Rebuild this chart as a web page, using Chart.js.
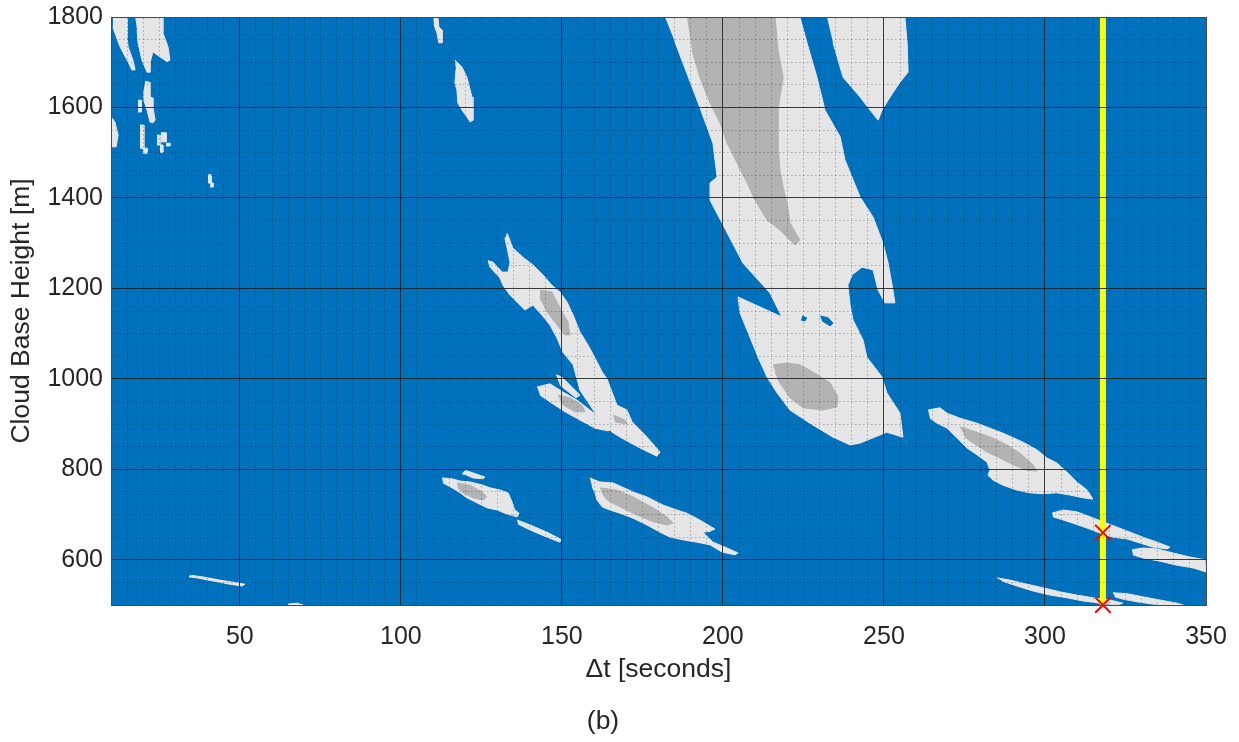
<!DOCTYPE html>
<html>
<head>
<meta charset="utf-8">
<script src="https://cdn.jsdelivr.net/npm/chart.js@4.4.1/dist/chart.umd.min.js"></script>
<style>
  html, body { margin: 0; padding: 0; background: #ffffff; }
  #wrap { width: 1239px; height: 742px; }
</style>
</head>
<body>
<div id="wrap"><canvas id="c" width="1239" height="742"></canvas></div>
<script>
// Axis ranges and tick labels
const xRange = [10, 350];
const yRange = [500, 1800];
const xTickValues = [50, 100, 150, 200, 250, 300, 350];
const xTickLabels = ['50', '100', '150', '200', '250', '300', '350'];
const yTickValues = [600, 800, 1000, 1200, 1400, 1600, 1800];
const yTickLabels = ['600', '800', '1000', '1200', '1400', '1600', '1800'];
const xMinorStep = 5;
const yMinorStep = 50;

// Selected time and the detected cloud bases on it
const cursorTime = 318;
const detectX = [318, 318];
const detectY = [660, 500];

// Cloud regions as closed outlines: [Δt (s), height (m)]
const mainCloud = [[182.0,1800],[223.9,1800],[226.1,1743],[229.2,1667],[231.7,1594],[236.4,1535],[237.9,1484],[242.6,1402],[246.6,1358],[249.7,1300],[251.3,1256],[252.8,1196],[253.4,1168],[250.3,1168],[248.2,1196],[246.6,1241],[243.2,1247],[240.1,1230],[238.8,1207],[239.5,1163],[240.4,1130],[243.5,1086],[244.7,1048],[249.4,1004],[250.9,969],[255.0,924],[255.9,871],[250.9,882],[242.6,858],[239.5,854],[234.2,871],[227.0,902],[220.8,931],[216.8,969],[213.7,1004],[210.9,1048],[208.4,1092],[205.3,1146],[204.7,1181],[218.3,1137],[214.6,1190],[206.2,1256],[199.7,1345],[196.0,1395],[196.0,1433],[198.2,1446],[196.9,1521],[192.8,1601],[185.1,1745]];
const mainCloudCore = [[188.8,1800],[216.2,1800],[217.1,1727],[218.7,1667],[217.1,1594],[217.1,1521],[217.7,1462],[218.7,1424],[219.9,1389],[220.8,1345],[223.9,1307],[222.4,1296],[217.7,1329],[213.7,1351],[210.0,1395],[207.5,1433],[204.4,1477],[201.3,1521],[199.1,1566],[196.0,1610],[192.8,1667],[190.4,1727]];
const lowerLobeCore = [[215.6,1031],[219.9,1035],[223.9,1031],[228.0,1015],[233.3,991],[235.7,960],[235.4,938],[231.1,931],[224.9,936],[220.8,958],[217.7,991],[216.2,1015]];
const lobeGapA = [[224.6,1139],[226.0,1135],[225.5,1128],[224.3,1130]];
const lobeGapB = [[230.2,1139],[232.7,1135],[234.2,1123],[233.3,1117],[230.8,1128]];
const upperRightCloud = [[232.3,1800],[256.5,1800],[257.2,1743],[257.5,1678],[255.0,1656],[251.9,1623],[249.4,1594],[248.2,1572],[245.7,1594],[242.6,1623],[237.3,1667],[234.2,1743]];

const edgeStreakA = [[10.6,1800],[15.0,1800],[15.0,1756],[15.3,1734],[16.8,1705],[17.5,1683],[16.5,1683],[15.0,1705],[12.8,1734],[11.2,1765],[10.6,1778]];
const edgeStreakB = [[17.5,1800],[26.1,1800],[26.1,1765],[27.7,1734],[28.3,1705],[27.4,1701],[25.2,1712],[23.0,1723],[22.1,1698],[22.1,1678],[21.2,1678],[19.6,1705],[18.4,1743],[18.1,1771]];
const edgeStreakC = [[20.6,1658],[21.8,1656],[22.1,1623],[23.0,1621],[23.0,1601],[23.7,1572],[23.0,1566],[22.1,1568],[21.2,1594],[20.2,1616],[20.2,1639]];
const edgeStreakD = [[10.0,1579],[11.2,1568],[12.2,1539],[11.6,1513],[10.0,1513]];
const speckA = [[18.4,1616],[19.4,1616],[19.4,1590],[18.4,1590]];
const speckB = [[19.0,1561],[20.2,1561],[20.2,1510],[19.0,1510]];
const speckC = [[19.9,1510],[21.2,1510],[21.2,1499],[19.9,1499]];
const speckD = [[24.3,1539],[25.2,1539],[25.2,1517],[24.3,1517]];
const speckE = [[25.5,1544],[27.1,1544],[27.1,1524],[25.5,1524]];
const speckF = [[25.2,1517],[26.1,1517],[26.1,1501],[25.2,1501]];
const speckG = [[27.1,1521],[28.3,1521],[28.3,1515],[27.1,1515]];
const speckH = [[40.1,1451],[41.1,1451],[41.1,1433],[40.1,1433]];
const speckI = [[40.8,1433],[41.7,1433],[41.7,1424],[40.8,1424]];

const crestTop = [[110.0,1800],[111.5,1800],[111.8,1778],[112.8,1771],[112.8,1743],[111.8,1743],[111.2,1765],[110.3,1782]];
const crestMid = [[116.8,1705],[119.0,1689],[120.5,1667],[121.5,1639],[122.1,1623],[122.4,1594],[122.4,1572],[121.5,1568],[120.5,1579],[119.0,1594],[117.7,1610],[117.4,1639],[116.8,1654],[117.1,1683]];

const slantC = [[133.0,1322],[134.8,1289],[137.9,1269],[141.0,1252],[144.1,1230],[146.9,1207],[149.4,1192],[151.6,1170],[153.5,1141],[155.6,1104],[158.1,1075],[160.3,1046],[162.5,1015],[164.0,1000],[167.1,942],[170.2,931],[171.8,905],[175.8,876],[180.5,838],[179.5,829],[174.3,847],[169.6,865],[165.6,882],[161.8,909],[158.7,942],[155.6,975],[153.5,1031],[150.3,1059],[148.5,1090],[146.3,1119],[143.8,1141],[141.0,1163],[138.5,1152],[137.0,1163],[133.9,1185],[131.7,1207],[130.8,1223],[127.7,1247],[127.1,1261],[128.6,1258],[131.5,1236],[133.3,1236],[133.9,1258],[133.0,1289],[132.3,1311]];
const slantCCore = [[143.2,1196],[146.9,1192],[149.4,1157],[151.9,1126],[152.5,1097],[151.0,1097],[148.5,1119],[145.4,1148],[143.2,1179]];
const slantD = [[142.3,982],[146.3,989],[150.3,971],[154.7,953],[158.7,931],[162.8,909],[166.5,891],[164.3,885],[160.3,891],[155.6,909],[151.0,927],[146.3,949],[143.2,964]];
const slantDCore = [[148.8,964],[152.5,958],[156.2,942],[157.2,927],[154.1,927],[150.0,944]];
const slantThin = [[148.2,1009],[150.0,1004],[155.6,964],[154.4,958],[149.4,986]];
const slantECore = [[165.9,920],[169.6,909],[170.2,900],[166.5,905]];

const lowBandF = [[112.8,781],[115.9,779],[118.4,774],[121.5,772],[125.5,765],[127.7,759],[130.8,754],[133.3,748],[134.5,728],[135.4,710],[136.7,703],[136.1,695],[133.0,701],[129.9,710],[126.7,715],[123.6,726],[120.5,737],[118.4,748],[115.9,759],[113.1,770]];
const lowBandFTop = [[119.9,798],[122.4,792],[126.1,783],[125.5,779],[122.4,781],[120.5,787],[119.0,790]];
const lowBandFTail = [[136.1,688],[140.1,677],[145.4,661],[150.0,644],[149.4,639],[145.4,650],[140.1,666],[136.4,679]];
const lowBandFCore = [[117.4,770],[121.5,765],[125.2,750],[126.7,739],[125.5,732],[122.4,737],[119.3,748],[117.7,759]];
const lowBandG = [[158.7,781],[161.8,772],[165.9,770],[172.1,750],[176.4,739],[181.4,721],[185.7,710],[188.8,703],[192.8,688],[197.5,668],[196.0,663],[193.8,661],[196.9,639],[201.3,626],[204.7,615],[203.7,611],[199.7,617],[196.0,633],[191.9,639],[187.6,644],[183.6,650],[180.5,661],[176.4,677],[172.1,692],[168.0,703],[164.9,710],[162.5,717],[160.9,732],[160.3,748],[159.4,761]];
const lowBandGCore = [[161.8,759],[167.1,754],[172.1,739],[178.3,715],[182.6,695],[184.5,681],[182.6,677],[178.3,684],[173.3,699],[168.0,717],[164.0,732],[162.5,748]];

const rightBandH = [[263.7,931],[267.4,936],[269.6,924],[273.6,913],[278.9,902],[282.9,891],[286.9,880],[293.2,860],[297.5,843],[300.6,825],[303.7,814],[306.8,794],[309.9,772],[313.1,754],[314.9,734],[311.8,737],[307.8,743],[303.7,748],[299.4,746],[295.3,748],[291.3,754],[286.9,765],[283.9,776],[282.3,787],[282.9,798],[282.0,816],[278.9,832],[275.8,847],[272.7,869],[269.6,891],[266.5,902],[264.3,913]];
const rightBandHCore = [[273.6,894],[278.9,882],[283.9,869],[288.2,854],[292.2,836],[296.3,810],[297.5,796],[294.4,798],[290.1,810],[286.0,825],[282.0,838],[277.7,858],[275.2,871]];
const rightBandI = [[302.2,703],[305.6,710],[309.9,706],[314.0,695],[318.0,684],[322.4,672],[326.4,661],[330.4,650],[334.8,639],[338.8,628],[337.9,624],[333.5,628],[329.5,637],[325.5,646],[321.1,650],[317.1,659],[313.1,670],[308.7,681],[304.7,690],[302.5,695]];
const rightBandJ = [[327.0,622],[330.4,626],[334.8,624],[339.8,615],[345.0,606],[349.7,600],[350.0,573],[346.0,582],[341.0,588],[335.7,597],[330.4,604],[327.3,611]];
const rightBandK = [[285.1,560],[289.1,555],[294.4,546],[299.4,538],[304.7,529],[309.9,522],[314.9,516],[320.2,511],[324.2,504],[322.4,500],[317.1,504],[311.8,509],[306.8,516],[301.6,522],[296.3,531],[291.3,542],[286.7,553]];
const rightBandL = [[321.1,527],[325.5,525],[330.4,518],[335.7,511],[341.0,504],[342.9,500],[338.8,500],[333.5,502],[328.6,507],[324.2,513],[321.7,518]];
const lowStreakM = [[34.5,566],[38.6,562],[43.8,555],[49.1,549],[51.6,546],[50.7,542],[46.9,546],[41.7,553],[36.7,560],[34.2,562]];
const lowStreakN = [[65.0,502],[67.8,504],[69.6,500],[65.0,500]];

// Layers: thin cloud, thick cloud core, clear gaps
const thinCloud = [mainCloud, upperRightCloud, edgeStreakA, edgeStreakB, edgeStreakC, edgeStreakD,
  speckA, speckB, speckC, speckD, speckE, speckF, speckG, speckH, speckI, crestTop, crestMid,
  slantC, slantD, slantThin, lowBandF, lowBandFTop, lowBandFTail, lowBandG,
  rightBandH, rightBandI, rightBandJ, rightBandK, rightBandL, lowStreakM, lowStreakN];
const thickCloud = [mainCloudCore, lowerLobeCore, slantCCore, slantDCore, slantECore,
  lowBandFCore, lowBandGCore, rightBandHCore];
const clearGaps = [lobeGapA, lobeGapB];

const SKY = '#0072BD';
const THIN = '#E6E6E6';
const THICK = '#B3B3B3';
const INK = '#262626';
const FONT = "'Liberation Sans', Arial, Helvetica, sans-serif";

function region(points, color, order) {
  return {
    type: 'scatter',
    data: points.map(([x, y]) => ({ x, y })),
    showLine: true,
    fill: 'shape',
    backgroundColor: color,
    borderColor: color,
    borderWidth: 1,
    pointRadius: 0,
    pointHoverRadius: 0,
    tension: 0,
    order
  };
}

const datasets = [
  ...thinCloud.map(p => region(p, THIN, 50)),
  ...thickCloud.map(p => region(p, THICK, 40)),
  ...clearGaps.map(p => region(p, SKY, 30)),
  {
    type: 'scatter',
    data: [{ x: cursorTime, y: yRange[0] }, { x: cursorTime, y: yRange[1] }],
    showLine: true,
    fill: false,
    borderColor: '#FFFF00',
    borderWidth: 6,
    borderCapStyle: 'butt',
    pointRadius: 0,
    order: 20
  },
  {
    type: 'scatter',
    data: detectX.map((x, i) => ({ x, y: detectY[i] })),
    showLine: false,
    pointStyle: 'crossRot',
    pointRadius: 11,
    pointBorderWidth: 2,
    borderColor: '#FF0000',
    backgroundColor: '#FF0000',
    clip: false,
    order: 10
  }
];

const plotBackground = {
  id: 'plotBackground',
  beforeDraw(chart) {
    const { ctx, width, height, chartArea: a } = chart;
    ctx.save();
    ctx.fillStyle = '#ffffff';
    ctx.fillRect(0, 0, width, height);
    ctx.fillStyle = SKY;
    ctx.fillRect(a.left, a.top, a.right - a.left, a.bottom - a.top);
    ctx.restore();
  }
};

const minorX = [];
for (let v = xRange[0]; v <= xRange[1]; v += xMinorStep) minorX.push(v);
const minorY = [];
for (let v = yRange[0]; v <= yRange[1]; v += yMinorStep) minorY.push(v);

const tickFont = { family: FONT, size: 25 };
const titleFont = { family: FONT, size: 26.5 };
const majorGrid = 'rgba(30,30,30,0.85)';
const minorGrid = 'rgba(20,20,20,0.3)';
const boxColor = '#4a4a4a';
const captionBox = 26.5 * 1.2 + 4;

// keep the plot rectangle fixed regardless of label overhang
function noOverhang(s) { s.paddingLeft = 0; s.paddingRight = 0; s.paddingTop = 0; s.paddingBottom = 0; }

new Chart(document.getElementById('c'), {
  type: 'scatter',
  data: { datasets },
  plugins: [plotBackground],
  options: {
    responsive: false,
    animation: false,
    events: [],
    layout: { padding: { left: 0, right: 33, top: 17, bottom: 0 } },
    plugins: {
      legend: { display: false },
      tooltip: { enabled: false },
      title: {
        display: true,
        text: '(b)',
        position: 'bottom',
        color: INK,
        font: { family: FONT, size: 26.5, weight: 'normal' },
        padding: { top: 0, bottom: 4 }
      }
    },
    scales: {
      x: {
        type: 'linear',
        position: 'bottom',
        min: xRange[0],
        max: xRange[1],
        afterBuildTicks: s => { s.ticks = xTickValues.map(v => ({ value: v })); },
        afterFit: s => { s.height = 742 - 605 - captionBox; noOverhang(s); },
        ticks: {
          callback: v => xTickLabels[xTickValues.indexOf(v)],
          color: INK, font: tickFont, padding: 17, maxRotation: 0, autoSkip: false
        },
        grid: { color: majorGrid, lineWidth: 1, drawTicks: false, z: 2 },
        border: { display: true, color: boxColor, width: 1, z: 3 },
        title: { display: true, text: 'Δt [seconds]', color: INK, font: titleFont, padding: { top: 0, bottom: 21 } }
      },
      y: {
        type: 'linear',
        position: 'left',
        min: yRange[0],
        max: yRange[1],
        afterBuildTicks: s => { s.ticks = yTickValues.map(v => ({ value: v })); },
        afterFit: s => { s.width = 111; noOverhang(s); },
        ticks: {
          callback: v => yTickLabels[yTickValues.indexOf(v)],
          color: INK, font: tickFont, padding: 8
        },
        grid: { color: majorGrid, lineWidth: 1, drawTicks: false, z: 2 },
        border: { display: true, color: boxColor, width: 1, z: 3 },
        title: { display: true, text: 'Cloud Base Height [m]', color: INK, font: titleFont, padding: { top: 6, bottom: 0 } }
      },
      xMinor: {
        type: 'linear',
        position: 'top',
        min: xRange[0],
        max: xRange[1],
        afterBuildTicks: s => { s.ticks = minorX.map(v => ({ value: v })); },
        afterFit: s => { s.height = 0; noOverhang(s); },
        ticks: { display: false },
        grid: { color: minorGrid, lineWidth: 1, drawTicks: false, z: 1 },
        border: { display: true, color: boxColor, width: 1, z: 3, dash: [1.5, 2.5] }
      },
      yMinor: {
        type: 'linear',
        position: 'right',
        min: yRange[0],
        max: yRange[1],
        afterBuildTicks: s => { s.ticks = minorY.map(v => ({ value: v })); },
        afterFit: s => { s.width = 0; noOverhang(s); },
        ticks: { display: false },
        grid: { color: minorGrid, lineWidth: 1, drawTicks: false, z: 1 },
        border: { display: true, color: boxColor, width: 1, z: 3, dash: [1.5, 2.5] }
      }
    }
  }
});
</script>
</body>
</html>
